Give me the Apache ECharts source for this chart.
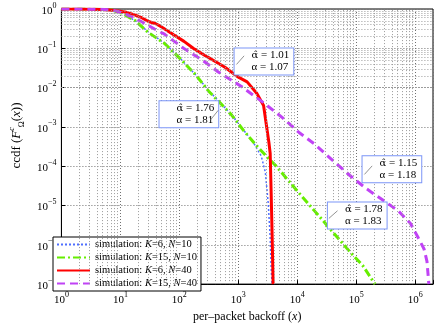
<!DOCTYPE html>
<html>
<head>
<meta charset="utf-8">
<script src="https://cdn.jsdelivr.net/npm/echarts@6/dist/echarts.min.js"></script>
<style>
html,body{margin:0;padding:0;background:#fff}
#chart{width:436px;height:328px}
</style>
</head>
<body>
<div id="chart"></div>
<script>
// (log-log)
var blueX = [1, 4, 7, 10.6, 18, 29, 56, 100, 190, 314, 455, 770, 1260, 1820, 2450, 2870, 3220, 3460, 3600, 3730];
var blueY = [1, 0.99, 0.95, 0.79, 0.5, 0.27, 0.135, 0.058, 0.021, 0.0083, 0.0047, 0.002, 7.9e-4, 3.9e-4, 1.8e-4, 7e-5, 1.1e-5, 1.6e-6, 2.6e-7, 1e-7];

var greenX = [1, 4, 7, 10.6, 18, 29, 56, 100, 190, 314, 455, 770, 1260, 2050, 2990, 4350, 9200, 19400, 41300, 78000, 128000, 208000];
var greenY = [1, 0.99, 0.95, 0.78, 0.5, 0.26, 0.133, 0.057, 0.021, 0.0081, 0.0046, 0.002, 7.7e-4, 3.3e-4, 1.8e-4, 1.02e-4, 2.7e-5, 7.4e-6, 2e-6, 6.6e-7, 3e-7, 1e-7];

var redX = [1, 2, 5, 8, 12, 17, 23, 30, 40, 50, 80, 120, 172, 280, 400, 593, 967, 1410, 2050, 2680, 2985, 3300, 3470, 3600, 3750, 3890];
var redY = [1, 0.995, 0.97, 0.92, 0.84, 0.72, 0.6, 0.48, 0.42, 0.35, 0.22, 0.15, 0.1, 0.064, 0.047, 0.033, 0.019, 0.014, 0.0072, 0.0035, 0.00114, 4e-4, 2.1e-4, 2.2e-5, 1.5e-6, 1e-7];

var purpleX = [1, 4, 7, 9.5, 15, 22.6, 38, 56, 118, 250, 457, 1130, 2680, 5650, 10700, 19400, 48500, 78000, 147000, 270000, 513000, 830000, 1.1e6, 1.41e6, 1.58e6, 1.7e6];
var purpleY = [1, 0.99, 0.95, 0.85, 0.65, 0.48, 0.31, 0.23, 0.1, 0.049, 0.025, 0.0107, 0.0041, 0.0017, 7.2e-4, 3.7e-4, 1.08e-4, 5.8e-5, 2.7e-5, 1.44e-5, 7.4e-6, 3.5e-6, 1.6e-6, 7.8e-7, 3.8e-7, 1e-7];

var legendK = [6, 15, 6, 15];
var legendN = [10, 10, 40, 40];

var annoHat = ['1.01', '1.76', '1.15', '1.78'];
var annoAlpha = ['1.07', '1.81', '1.18', '1.83'];
var annoAt = [[864, 0.0459], [46.1, 0.00211], [127700, 8.4e-5], [33000, 5.56e-6]];
var arrowFrom = [[1253, 0.0643], [338, 0.00151], [186000, 1.02e-4], [48100, 7.35e-6]];
var arrowTo = [[931, 0.0388], [456, 0.00264], [137600, 6.18e-5], [34300, 4.7e-6]];

var xMin = 1, xMax = 2e6, yMin = 1e-7, yMax = 1;

var serif = '"Liberation Serif", "DejaVu Serif", serif';

function pairs(xs, ys) {
    var out = [];
    for (var i = 0; i < xs.length; i++) out.push([xs[i], ys[i]]);
    return out;
}

function powLabel(v) {
    var e = Math.log10(v);
    var r = Math.round(e);
    if (Math.abs(e - r) > 1e-6) return '';
    return '{b|10}{e|' + (r < 0 ? '\u2212' + (-r) : r) + '}';
}

var tickRich = {
    b: {fontFamily: serif, fontSize: 11, color: '#000', verticalAlign: 'bottom', lineHeight: 15},
    e: {fontFamily: serif, fontSize: 8, color: '#000', verticalAlign: 'top', lineHeight: 8}
};

// minor grid positions 2..9 x 10^k
var minorX = [], minorY = [];
for (var e = 0; e <= 6; e++) {
    for (var k = 2; k <= 9; k++) {
        var v = k * Math.pow(10, e);
        if (v < xMax) minorX.push(v);
    }
}
for (e = -7; e < 0; e++) {
    for (k = 2; k <= 9; k++) minorY.push(k * Math.pow(10, e));
}
var gridLines = [];
minorX.forEach(function (v) { gridLines.push({xAxis: v}); });
minorY.forEach(function (v) { gridLines.push({yAxis: v}); });

var names = legendK.map(function (K, i) {
    return 'simulation: K=' + K + ', N=' + legendN[i];
});

var annoPoints = annoAt.map(function (c, i) {
    return {coord: c, value: i};
});
var arrowLines = arrowFrom.map(function (c, i) {
    return [{coord: c}, {coord: arrowTo[i]}];
});

var option = {
    animation: false,
    backgroundColor: '#fff',
    grid: {
        left: 50, right: 1, top: 9, bottom: 32,
        show: true, borderColor: '#000', borderWidth: 1, backgroundColor: '#fff'
    },
    legend: {
        data: names,
        orient: 'vertical',
        left: 53, top: 237,
        itemWidth: 33, itemHeight: 8, itemGap: 2,
        padding: [2, 4, 2, 3],
        backgroundColor: '#fff',
        borderColor: '#000', borderWidth: 1, borderRadius: 0,
        itemStyle: {opacity: 0},
        formatter: function (name) {
            var i = names.indexOf(name);
            return '{n|simulation: }{i|K}{n|=' + legendK[i] + ', }{i|N}{n|=' + legendN[i] + '}';
        },
        textStyle: {
            rich: {
                n: {fontFamily: serif, fontSize: 10.5, color: '#000', lineHeight: 12},
                i: {fontFamily: serif, fontSize: 10.5, color: '#000', fontStyle: 'italic', lineHeight: 12}
            }
        }
    },
    xAxis: {
        type: 'log', logBase: 10, min: xMin, max: xMax,
        name: '{n|per\u2013packet backoff (}{i|x}{n|)}',
        nameLocation: 'middle', nameGap: 26,
        nameTextStyle: {
            rich: {
                n: {fontFamily: serif, fontSize: 12, color: '#000'},
                i: {fontFamily: serif, fontSize: 12, color: '#000', fontStyle: 'italic'}
            }
        },
        axisLine: {lineStyle: {color: '#000', width: 1}},
        axisTick: {inside: true, length: 4, lineStyle: {color: '#000'}},
        axisLabel: {formatter: powLabel, rich: tickRich, margin: 7},
        splitLine: {show: true, lineStyle: {color: '#707070', type: [1, 2], width: 1}}
    },
    yAxis: {
        type: 'log', logBase: 10, min: yMin, max: yMax,
        name: '{n|ccdf (}{i|F}{sup|c}{sub|\u03a9}{n|(}{i|x}{n|))}',
        nameLocation: 'middle', nameGap: 30,
        nameTextStyle: {
            padding: [0, 0, 0, 22],
            rich: {
                n: {fontFamily: serif, fontSize: 13, color: '#000', verticalAlign: 'middle', lineHeight: 18},
                i: {fontFamily: serif, fontSize: 13, color: '#000', fontStyle: 'italic', verticalAlign: 'middle', lineHeight: 18},
                sup: {fontFamily: serif, fontSize: 8, color: '#000', fontStyle: 'italic', verticalAlign: 'top', lineHeight: 8},
                sub: {fontFamily: serif, fontSize: 8, color: '#000', verticalAlign: 'bottom', lineHeight: 8}
            }
        },
        axisLine: {lineStyle: {color: '#000', width: 1}},
        axisTick: {inside: true, length: 4, lineStyle: {color: '#000'}},
        axisLabel: {formatter: powLabel, rich: tickRich, margin: 5},
        splitLine: {show: true, lineStyle: {color: '#707070', type: [1, 2], width: 1}}
    },
    series: [
        {
            name: 'grid', type: 'line', data: [[xMin, yMax]], symbol: 'none',
            lineStyle: {opacity: 0}, silent: true, z: 1,
            markLine: {
                silent: true, symbol: 'none', animation: false,
                label: {show: false},
                lineStyle: {color: '#9a9a9a', type: [1, 2], width: 1},
                emphasis: {disabled: true},
                data: gridLines
            }
        },
        {
            name: names[0], type: 'line', data: pairs(blueX, blueY), symbol: 'none',
            lineStyle: {color: '#4f6fff', width: 1.5, type: [2, 2]},
            itemStyle: {color: '#4f6fff'}
        },
        {
            name: names[1], type: 'line', data: pairs(greenX, greenY), symbol: 'none',
            lineStyle: {color: '#66ee00', width: 3, type: [8, 3, 2, 3]},
            itemStyle: {color: '#66ee00'}
        },
        {
            name: names[2], type: 'line', data: pairs(redX, redY), symbol: 'none',
            lineStyle: {color: '#ff0000', width: 3, type: 'solid'},
            itemStyle: {color: '#ff0000'}
        },
        {
            name: names[3], type: 'line', data: pairs(purpleX, purpleY), symbol: 'none',
            lineStyle: {color: '#c043f5', width: 3, type: [8, 5]},
            itemStyle: {color: '#c043f5'}
        },
        {
            name: 'notes', type: 'line', data: [], symbol: 'none', silent: true,
            markPoint: {
                z: 6, silent: true, symbol: 'circle', symbolSize: 0, animation: false,
                label: {
                    show: true, position: 'right', distance: 0,
                    backgroundColor: '#fff', borderColor: '#7b95f7', borderWidth: 1,
                    padding: [1, 4, 1, 17],
                    formatter: function (p) {
                        var i = p.value;
                        return '{h|\u03b1\u0302}{t| = ' + annoHat[i] + '}\n{t|\u03b1 = ' + annoAlpha[i] + '}';
                    },
                    rich: {
                        h: {fontFamily: '"DejaVu Serif", serif', fontSize: 10, color: '#000', lineHeight: 12},
                        t: {fontFamily: serif, fontSize: 11, color: '#000', lineHeight: 12}
                    }
                },
                data: annoPoints
            },
            markLine: {
                z: 7, silent: true, animation: false,
                symbol: ['none', 'arrow'], symbolSize: [0, 4],
                label: {show: false},
                lineStyle: {color: '#777', width: 0.8, type: 'solid'},
                data: arrowLines
            }
        }
    ]
};

var chart = echarts.init(document.getElementById('chart'), null, {renderer: 'canvas'});
chart.setOption(option);
</script>
</body>
</html>
